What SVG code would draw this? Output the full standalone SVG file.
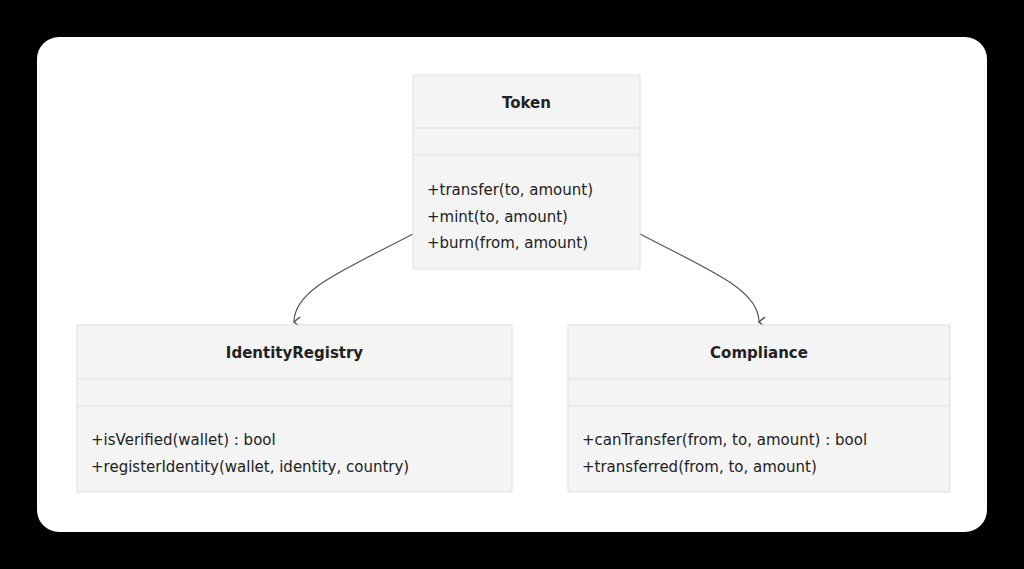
<svg xmlns="http://www.w3.org/2000/svg" width="1024" height="569" viewBox="0 0 1024 569">
<style>
.box{fill:#f4f4f4;stroke:#e0e0e0;stroke-width:1}
.div{stroke:#e0e0e0;stroke-width:1}
text{font-family:"DejaVu Sans",sans-serif;font-size:15px;fill:#222}
.t{font-weight:bold;text-anchor:middle}
.e{fill:none;stroke:#555;stroke-width:1.2}
</style>
<defs><marker id="a" viewBox="0 0 12 12" refX="6" refY="10" markerWidth="12" markerHeight="12" markerUnits="userSpaceOnUse" orient="auto-start-reverse"><path d="M1,4 L6,10 L11,4" fill="none" stroke="#555" stroke-width="1.5"/></marker></defs>
<rect width="1024" height="569" fill="#000"/>
<rect x="37" y="37" width="950" height="495" rx="22" fill="#fff"/>
<g id="connectors">
<path class="e" d="M413,234 C340,272 294,290 294,322" marker-end="url(#a)"/>
<path class="e" d="M640,234 C713,272 759,290 759,322" marker-end="url(#a)"/>
</g>
<g id="Token">
<rect class="box" x="413" y="75" width="227" height="194"/>
<line class="div" x1="413" y1="128" x2="640" y2="128"/><line class="div" x1="413" y1="155" x2="640" y2="155"/>
<text class="t" x="526.5" y="108">Token</text>
<text x="427" y="195">+transfer(to, amount)</text>
<text x="427" y="222">+mint(to, amount)</text>
<text x="427" y="248">+burn(from, amount)</text>
</g>
<g id="IdentityRegistry">
<rect class="box" x="77" y="325" width="435" height="167"/>
<line class="div" x1="77" y1="379" x2="512" y2="379"/><line class="div" x1="77" y1="406" x2="512" y2="406"/>
<text class="t" x="294.5" y="358">IdentityRegistry</text>
<text x="91" y="445">+isVerified(wallet) : bool</text>
<text x="91" y="472">+registerIdentity(wallet, identity, country)</text>
</g>
<g id="Compliance">
<rect class="box" x="568" y="325" width="382" height="167"/>
<line class="div" x1="568" y1="379" x2="950" y2="379"/><line class="div" x1="568" y1="406" x2="950" y2="406"/>
<text class="t" x="759" y="358">Compliance</text>
<text x="582" y="445">+canTransfer(from, to, amount) : bool</text>
<text x="582" y="472">+transferred(from, to, amount)</text>
</g>
</svg>
